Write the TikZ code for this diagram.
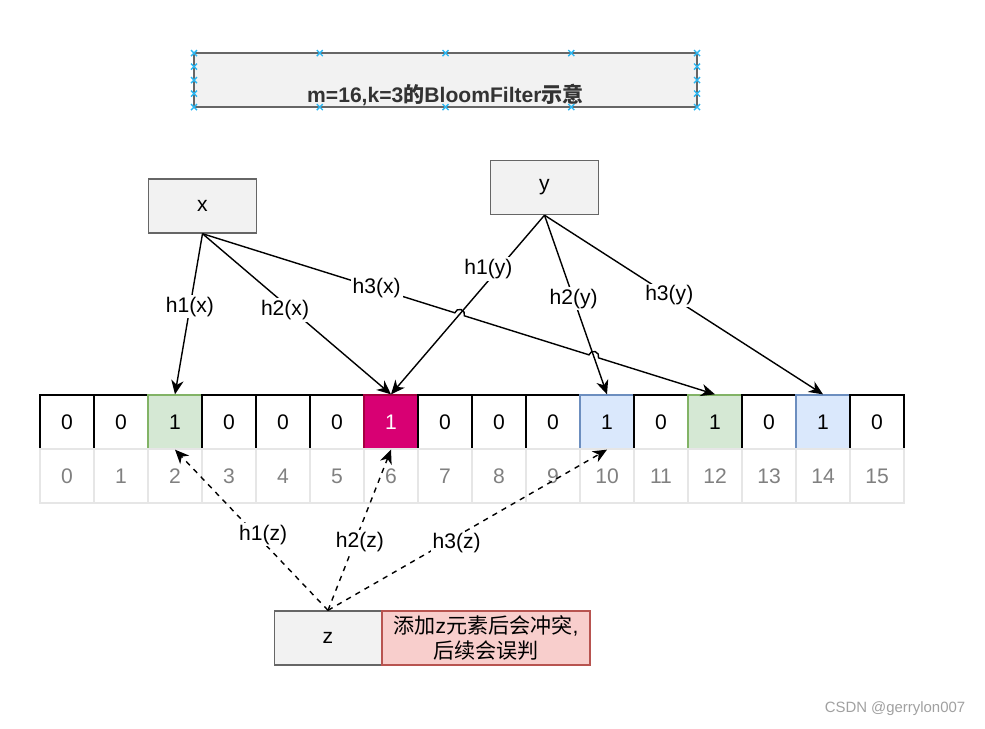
\documentclass[tikz,border=0pt]{standalone}
\usepackage{fontspec}
\setmainfont{Liberation Sans}
\newfontfamily\cjk{Noto Sans CJK SC}
\usetikzlibrary{arrows.meta,calc,intersections}

\begin{document}
\begin{tikzpicture}[x=0.02cm,y=-0.02cm,
    font=\fontsize{12}{14.5}\selectfont,
    box/.style={draw=r102g102b102,fill=r242g242b242,line width=0.8pt,
      minimum width=2.17cm,minimum height=1.08cm,inner sep=0pt},
    bitcell/.style={draw=black,line width=0.75pt,minimum width=1.08cm,
      minimum height=1.08cm,inner sep=0pt},
    greenbit/.style={bitcell,draw=r130g179b102,fill=r213g232b212},
    bluebit/.style={bitcell,draw=r108g142b191,fill=r218g232b252},
    redbit/.style={bitcell,draw=r165g0b64,fill=r216g0b115,text=white},
    idxcell/.style={draw=r230g230b230,line width=0.75pt,text=r128g128b128,
      minimum width=1.08cm,minimum height=1.08cm,inner sep=0pt},
    hasharrow/.style={line width=0.8pt,-{Stealth[length=8pt,width=7pt,inset=2.5pt]}},
    zarrow/.style={hasharrow,dash pattern=on 3pt off 3pt},
    lbl/.style={fill=white,inner sep=1pt},
    handle/.style={draw=r41g182b242,line width=0.8pt}]
\useasboundingbox (0,0) rectangle (985,728);

% Changing colors
\definecolor{r102g102b102}{RGB}{102,102,102}%
\definecolor{r242g242b242}{RGB}{242,242,242}%
\definecolor{r130g179b102}{RGB}{130,179,102}%
\definecolor{r213g232b212}{RGB}{213,232,212}%
\definecolor{r108g142b191}{RGB}{108,142,191}%
\definecolor{r218g232b252}{RGB}{218,232,252}%
\definecolor{r165g0b64}{RGB}{165,0,64}%
\definecolor{r216g0b115}{RGB}{216,0,115}%
\definecolor{r230g230b230}{RGB}{230,230,230}%
\definecolor{r128g128b128}{RGB}{128,128,128}%
\definecolor{r41g182b242}{RGB}{41,182,242}%
\definecolor{r248g206b204}{RGB}{248,206,204}%
\definecolor{r184g84b80}{RGB}{184,84,80}%
\definecolor{r51g51b51}{RGB}{51,51,51}%
\definecolor{r160g160b160}{RGB}{160,160,160}%

% Drawing title box
\node[box,minimum width=10.06cm,line width=1.2pt] (title) at (445.5,80) {};
\node[text=r51g51b51] (titletext) at (445.5,95)
  {\bfseries m=16,k=3{\cjk 的}BloomFilter{\cjk 示意}};
\foreach \hx/\hy in {194/53,319.75/53,445.5/53,571.25/53,697/53,
    194/107,319.75/107,445.5/107,571.25/107,697/107,
    194/66.5,194/80,194/93.5,697/66.5,697/80,697/93.5}
  \draw[handle,shift={(\hx,\hy)}] (-3,-3) -- (3,3) (-3,3) -- (3,-3);

% Drawing elements x, y
\node[box] (x) at (202.5,206) {x};
\node[box] (y) at (544.5,187.5) {y};

% Drawing bit cells
\node[bitcell] (c0) at (67,422) {0};
\node[bitcell] (c1) at (121,422) {0};
\node[greenbit] (c2) at (175,422) {1};
\node[bitcell] (c3) at (229,422) {0};
\node[bitcell] (c4) at (283,422) {0};
\node[bitcell] (c5) at (337,422) {0};
\node[redbit] (c6) at (391,422) {1};
\node[bitcell] (c7) at (445,422) {0};
\node[bitcell] (c8) at (499,422) {0};
\node[bitcell] (c9) at (553,422) {0};
\node[bluebit] (c10) at (607,422) {1};
\node[bitcell] (c11) at (661,422) {0};
\node[greenbit] (c12) at (715,422) {1};
\node[bitcell] (c13) at (769,422) {0};
\node[bluebit] (c14) at (823,422) {1};
\node[bitcell] (c15) at (877,422) {0};

% Drawing index cells
\node[idxcell] (n0) at (67,476) {0};
\node[idxcell] (n1) at (121,476) {1};
\node[idxcell] (n2) at (175,476) {2};
\node[idxcell] (n3) at (229,476) {3};
\node[idxcell] (n4) at (283,476) {4};
\node[idxcell] (n5) at (337,476) {5};
\node[idxcell] (n6) at (391,476) {6};
\node[idxcell] (n7) at (445,476) {7};
\node[idxcell] (n8) at (499,476) {8};
\node[idxcell] (n9) at (553,476) {9};
\node[idxcell] (n10) at (607,476) {10};
\node[idxcell] (n11) at (661,476) {11};
\node[idxcell] (n12) at (715,476) {12};
\node[idxcell] (n13) at (769,476) {13};
\node[idxcell] (n14) at (823,476) {14};
\node[idxcell] (n15) at (877,476) {15};

% Drawing hashes of y
\draw[hasharrow,name path=h1y] (y.south) -- node[lbl,pos=0.3,xshift=-0.2cm] {h1(y)} (c6.north);
\draw[hasharrow,name path=h2y] (y.south) -- node[lbl,pos=0.466] {h2(y)} (c10.north);
\draw[hasharrow] (y.south) -- node[lbl,pos=0.448] {h3(y)} (c14.north);

% Drawing hashes of x
\draw[hasharrow] (x.south) -- node[lbl,pos=0.455] {h1(x)} (c2.north);
\draw[hasharrow] (x.south) -- node[lbl,pos=0.475,xshift=-0.14cm] {h2(x)} (c6.north);

% Drawing h3(x) with line jumps
\path[name path=h3x] (x.south) -- (c12.north);
\path[name intersections={of=h3x and h1y,by=j1}];
\path[name intersections={of=h3x and h2y,by=j2}];
\draw[hasharrow] (x.south) -- ($(j1)!0.1cm!(x.south)$)
  arc[start angle=197.5,end angle=377.5,radius=5] -- ($(j2)!0.1cm!(x.south)$)
  arc[start angle=197.5,end angle=377.5,radius=5] -- (c12.north);
\path (x.south) -- node[lbl,pos=0.34] {h3(x)} (c12.north);

% Drawing element z and note
\node[box,minimum width=2.15cm] (z) at (328,638) {z};
\node[draw=r184g84b80,fill=r248g206b204,line width=0.8pt,minimum width=4.16cm,
  minimum height=1.08cm,inner sep=0pt,align=center] (note) at (486,638)
  {{\cjk 添加}z{\cjk 元素后会冲突},\\{\cjk 后续会误判}};

% Drawing hashes of z
\draw[zarrow] (z.north) -- node[lbl,pos=0.47,xshift=0.14cm] {h1(z)} (c2.south);
\draw[zarrow] (z.north) -- node[lbl,pos=0.426,xshift=0.1cm] {h2(z)} (c6.south);
\draw[zarrow] (z.north) -- node[lbl,pos=0.461,yshift=-0.14cm] {h3(z)} (c10.south);

% Marking watermark
\node[text=r160g160b160,font=\fontsize{8.5}{10}\selectfont] (mark) at (895,709) {CSDN @gerrylon007};
\end{tikzpicture}
\end{document}
